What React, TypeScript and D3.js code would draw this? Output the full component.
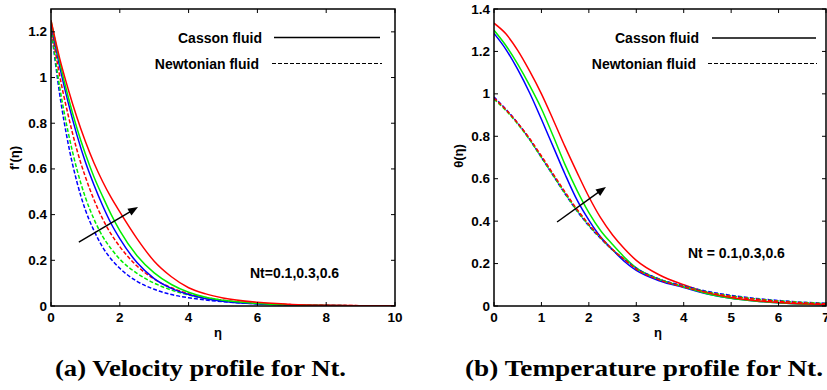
import React from "react";
import * as d3 from "d3";

// ---------- Data: (a) velocity profile f'(η) ----------
const etaA = [0, 0.25, 0.5, 0.75, 1, 1.25, 1.5, 1.75, 2, 2.5, 3, 3.5, 4, 4.5, 5, 6, 7, 8, 9, 10];
const cassonBlueA = [1.24, 1.05, 0.89, 0.75, 0.63, 0.53, 0.44, 0.36, 0.295, 0.19, 0.12, 0.077, 0.05, 0.032, 0.021, 0.009, 0.004, 0.002, 0.001, 0.0005];
const cassonGreenA = [1.25, 1.07, 0.915, 0.78, 0.665, 0.565, 0.48, 0.4, 0.33, 0.22, 0.145, 0.094, 0.06, 0.038, 0.025, 0.011, 0.005, 0.002, 0.001, 0.0005];
const cassonRedA = [1.25, 1.085, 0.949, 0.827, 0.72, 0.626, 0.545, 0.474, 0.412, 0.295, 0.196, 0.128, 0.08, 0.053, 0.035, 0.016, 0.007, 0.003, 0.0015, 0.001];
const newtBlueA = [1.22, 0.93, 0.71, 0.545, 0.42, 0.33, 0.258, 0.205, 0.165, 0.108, 0.073, 0.05, 0.036, 0.026, 0.019, 0.01, 0.005, 0.0025, 0.0012, 0.0006];
const newtGreenA = [1.22, 0.96, 0.76, 0.6, 0.475, 0.38, 0.305, 0.25, 0.205, 0.143, 0.1, 0.07, 0.048, 0.033, 0.023, 0.011, 0.005, 0.0025, 0.0012, 0.0006];
const newtRedA = [1.23, 1.01, 0.835, 0.685, 0.565, 0.465, 0.382, 0.314, 0.26, 0.175, 0.118, 0.08, 0.054, 0.037, 0.025, 0.012, 0.006, 0.003, 0.0015, 0.001];
const xTicksA = [0, 2, 4, 6, 8, 10];
const yTicksA = [0, 0.2, 0.4, 0.6, 0.8, 1, 1.2];

// ---------- Data: (b) temperature profile θ(η) ----------
const etaB = [0, 0.25, 0.5, 0.75, 1, 1.25, 1.5, 1.75, 2, 2.25, 2.5, 2.75, 3, 3.5, 4, 4.5, 5, 5.5, 6, 6.5, 7];
const cassonBlueB = [1.285, 1.21, 1.115, 1.005, 0.88, 0.75, 0.62, 0.5, 0.405, 0.325, 0.265, 0.21, 0.168, 0.118, 0.087, 0.057, 0.037, 0.024, 0.015, 0.009, 0.006];
const cassonGreenB = [1.3, 1.228, 1.14, 1.04, 0.93, 0.8, 0.665, 0.545, 0.44, 0.355, 0.29, 0.23, 0.18, 0.125, 0.09, 0.058, 0.037, 0.024, 0.015, 0.009, 0.006];
const cassonRedB = [1.333, 1.283, 1.205, 1.108, 1.0, 0.877, 0.75, 0.63, 0.515, 0.415, 0.335, 0.27, 0.215, 0.145, 0.1, 0.063, 0.04, 0.026, 0.017, 0.011, 0.007];
const newtBlueB = [0.985, 0.928, 0.862, 0.786, 0.7, 0.614, 0.528, 0.448, 0.378, 0.318, 0.264, 0.219, 0.178, 0.126, 0.095, 0.069, 0.05, 0.036, 0.026, 0.018, 0.013];
const newtGreenB = [0.975, 0.922, 0.858, 0.784, 0.7, 0.615, 0.53, 0.45, 0.38, 0.32, 0.265, 0.22, 0.176, 0.124, 0.092, 0.066, 0.047, 0.034, 0.024, 0.017, 0.012];
const newtRedB = [0.98, 0.926, 0.862, 0.79, 0.707, 0.622, 0.537, 0.456, 0.385, 0.323, 0.266, 0.219, 0.174, 0.122, 0.09, 0.064, 0.045, 0.032, 0.022, 0.015, 0.01];
const xTicksB = [0, 1, 2, 3, 4, 5, 6, 7];
const yTicksB = [0, 0.2, 0.4, 0.6, 0.8, 1, 1.2, 1.4];

const BLUE = "#0000ff";
const GREEN = "#00ee00";
const RED = "#ff0000";
const SANS = "'Liberation Sans', Arial, sans-serif";
const SERIF = "'Liberation Serif', 'Times New Roman', serif";

type Series = { y: number[]; color: string; dashed: boolean };

type PanelProps = {
  x0: number; x1: number; yTop: number; yBot: number;
  xDomain: [number, number]; yDomain: [number, number];
  eta: number[]; series: Series[];
  xTicks: number[]; yTicks: number[];
  yLabel: string; xLabelX: number;
  legend: { textEnd: number; y1: number; y2: number; s1: number; e1: number; s2: number; e2: number };
  nt: { text: string; x: number; y: number };
  arrow: { from: [number, number]; to: [number, number] };
  caption: { text: string; x: number; len: number };
  yLabelPos: [number, number];
  id: string;
};

function Panel(p: PanelProps) {
  const xs = d3.scaleLinear().domain(p.xDomain).range([p.x0, p.x1]);
  const ys = d3.scaleLinear().domain(p.yDomain).range([p.yBot, p.yTop]);
  const line = d3
    .line<number>()
    .x((_, i) => xs(p.eta[i]))
    .y((d) => ys(d))
    .curve(d3.curveMonotoneX);
  const tl = 4;
  const fmt = (v: number) => String(v);
  const ax = xs(p.arrow.from[0]);
  const ay = ys(p.arrow.from[1]);
  const bx = xs(p.arrow.to[0]);
  const by = ys(p.arrow.to[1]);
  const ang = Math.atan2(by - ay, bx - ax);
  const hl = 10, hw = 4;
  const head = [
    [bx, by],
    [bx - hl * Math.cos(ang) + hw * Math.sin(ang), by - hl * Math.sin(ang) - hw * Math.cos(ang)],
    [bx - hl * Math.cos(ang) - hw * Math.sin(ang), by - hl * Math.sin(ang) + hw * Math.cos(ang)],
  ];
  return (
    <g>
      <defs>
        <clipPath id={"clip" + p.id}>
          <rect x={p.x0} y={p.yTop} width={p.x1 - p.x0} height={p.yBot - p.yTop} />
        </clipPath>
      </defs>
      <g clipPath={`url(#clip${p.id})`}>
        {p.series.map((s, i) => (
          <path
            key={i}
            d={line(s.y) || ""}
            fill="none"
            stroke={s.color}
            strokeWidth={1.5}
            strokeDasharray={s.dashed ? "4,2" : undefined}
          />
        ))}
      </g>
      {p.xTicks.map((t) => (
        <g key={"xt" + t}>
          <line x1={xs(t)} x2={xs(t)} y1={p.yBot} y2={p.yBot - tl} stroke="#000" strokeWidth={1} />
          <line x1={xs(t)} x2={xs(t)} y1={p.yTop} y2={p.yTop + tl} stroke="#000" strokeWidth={1} />
          <text x={xs(t)} y={p.yBot + 16} textAnchor="middle" fontFamily={SANS} fontWeight="bold" fontSize={13.5}>
            {fmt(t)}
          </text>
        </g>
      ))}
      {p.yTicks.map((t) => (
        <g key={"yt" + t}>
          <line x1={p.x0} x2={p.x0 + tl} y1={ys(t)} y2={ys(t)} stroke="#000" strokeWidth={1} />
          <line x1={p.x1} x2={p.x1 - tl} y1={ys(t)} y2={ys(t)} stroke="#000" strokeWidth={1} />
          <text x={p.x0 - 4} y={ys(t) + 4.5} textAnchor="end" fontFamily={SANS} fontWeight="bold" fontSize={13.5}>
            {fmt(t)}
          </text>
        </g>
      ))}
      <rect x={p.x0} y={p.yTop} width={p.x1 - p.x0} height={p.yBot - p.yTop} fill="none" stroke="#000" strokeWidth={1.5} />
      <text x={p.xLabelX} y={p.yBot + 31} textAnchor="middle" fontFamily={SANS} fontWeight="bold" fontSize={13}>
        η
      </text>
      <text
        transform={`translate(${p.yLabelPos[0]},${p.yLabelPos[1]}) rotate(-90)`}
        textAnchor="middle"
        fontFamily={SANS}
        fontWeight="bold"
        fontSize={13}
      >
        {p.yLabel}
      </text>
      <text x={p.legend.textEnd} y={p.legend.y1 + 5} textAnchor="end" fontFamily={SANS} fontWeight="bold" fontSize={14}>
        Casson fluid
      </text>
      <line x1={p.legend.s1} x2={p.legend.e1} y1={p.legend.y1} y2={p.legend.y1} stroke="#000" strokeWidth={1.5} />
      <text x={p.legend.textEnd - 3} y={p.legend.y2 + 5} textAnchor="end" fontFamily={SANS} fontWeight="bold" fontSize={14}>
        Newtonian fluid
      </text>
      <line x1={p.legend.s2} x2={p.legend.e2} y1={p.legend.y2} y2={p.legend.y2} stroke="#000" strokeWidth={1.2} strokeDasharray="4,2" />
      <text x={p.nt.x} y={p.nt.y} fontFamily={SANS} fontWeight="bold" fontSize={14}>
        {p.nt.text}
      </text>
      <line x1={ax} y1={ay} x2={bx - 6 * Math.cos(ang)} y2={by - 6 * Math.sin(ang)} stroke="#000" strokeWidth={1.5} />
      <polygon points={head.map((q) => q.join(",")).join(" ")} fill="#000" />
      <text
        x={p.caption.x}
        y={376}
        fontFamily={SERIF}
        fontWeight="bold"
        fontSize={24}
        textLength={p.caption.len}
        lengthAdjust="spacingAndGlyphs"
      >
        {p.caption.text}
      </text>
    </g>
  );
}

export default function App() {
  const seriesA: Series[] = [
    { y: newtBlueA, color: BLUE, dashed: true },
    { y: newtGreenA, color: GREEN, dashed: true },
    { y: newtRedA, color: RED, dashed: true },
    { y: cassonBlueA, color: BLUE, dashed: false },
    { y: cassonGreenA, color: GREEN, dashed: false },
    { y: cassonRedA, color: RED, dashed: false },
  ];
  const seriesB: Series[] = [
    { y: cassonBlueB, color: BLUE, dashed: false },
    { y: cassonGreenB, color: GREEN, dashed: false },
    { y: cassonRedB, color: RED, dashed: false },
    { y: newtBlueB, color: BLUE, dashed: true },
    { y: newtGreenB, color: GREEN, dashed: true },
    { y: newtRedB, color: RED, dashed: true },
  ];
  return (
    <svg width={827} height={390} style={{ position: "absolute", left: 0, top: 0, background: "#fff" }}>
      <rect x={0} y={0} width={827} height={390} fill="#fff" />
      <Panel
        id="a"
        x0={51} x1={395} yTop={9} yBot={306}
        xDomain={[0, 10]} yDomain={[0, 1.3]}
        eta={etaA} series={seriesA}
        xTicks={xTicksA} yTicks={yTicksA}
        yLabel="f'(η)" xLabelX={218} yLabelPos={[19, 158]}
        legend={{ textEnd: 262, y1: 37.5, y2: 63.5, s1: 274, e1: 380, s2: 272, e2: 382 }}
        nt={{ text: "Nt=0.1,0.3,0.6", x: 250, y: 278 }}
        arrow={{ from: [0.81, 0.28], to: [2.53, 0.433] }}
        caption={{ text: "(a) Velocity profile for Nt.", x: 55, len: 291 }}
      />
      <Panel
        id="b"
        x0={494} x1={826} yTop={9} yBot={306}
        xDomain={[0, 7]} yDomain={[0, 1.4]}
        eta={etaB} series={seriesB}
        xTicks={xTicksB} yTicks={yTicksB}
        yLabel="θ(η)" xLabelX={658} yLabelPos={[463, 156]}
        legend={{ textEnd: 699, y1: 38, y2: 63.5, s1: 712, e1: 816, s2: 708, e2: 817 }}
        nt={{ text: "Nt = 0.1,0.3,0.6", x: 688, y: 258 }}
        arrow={{ from: [1.33, 0.396], to: [2.36, 0.561] }}
        caption={{ text: "(b) Temperature profile for Nt.", x: 465, len: 358 }}
      />
    </svg>
  );
}
